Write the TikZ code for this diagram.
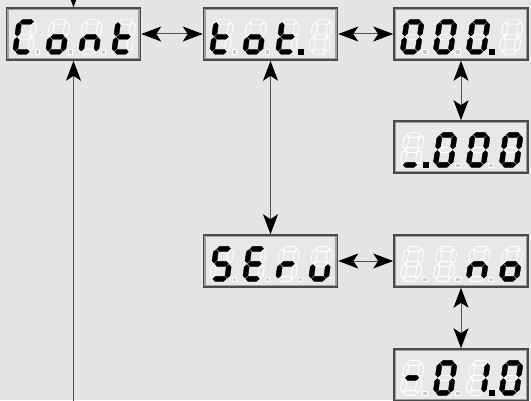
\documentclass[tikz,border=0pt]{standalone}
\usetikzlibrary{calc,arrows.meta}
\definecolor{bgc}{HTML}{E5E5E5}
\definecolor{boxin}{HTML}{E8E8E8}
\definecolor{frameo}{HTML}{4A4A4A}
\definecolor{framei}{HTML}{A0A0A0}
\definecolor{linec}{HTML}{505050}
\tikzset{
  dispbox/.style={draw=frameo, line width=1.6pt, fill=boxin, minimum width=134pt, minimum height=52pt, inner sep=0pt, outer sep=0.8pt},
  innerframe/.style={draw=framei, line width=1.5pt},
  segoff/.style={draw=white, line width=0.9pt, line join=miter},
  segon/.style={fill=black, draw=black, line width=0.4pt},
  dpoff/.style={draw=white, fill=white!60!gray, line width=0.6pt},
  conn/.style={draw=linec, line width=1pt},
  dbl/.style={conn, arrows={Stealth[length=20pt,width=15pt,inset=5pt,color=black]-Stealth[length=20pt,width=15pt,inset=5pt,color=black]}},
  sgl/.style={conn, arrows={-Stealth[length=20pt,width=15pt,inset=5pt,color=black]}},
  sg/.style={}, sgz/.style={},
  sga/.style={insert path={(3.2,32.5)--(5.7,35)--(14.3,35)--(16.8,32.5)--(14.3,30)--(5.7,30)--cycle}},
  sgg/.style={insert path={(3.2,17.5)--(5.7,20)--(14.3,20)--(16.8,17.5)--(14.3,15)--(5.7,15)--cycle}},
  sgd/.style={insert path={(3.2,2.5)--(5.7,5)--(14.3,5)--(16.8,2.5)--(14.3,0)--(5.7,0)--cycle}},
  sgf/.style={insert path={(2.5,18.2)--(5,20.7)--(5,29.3)--(2.5,31.8)--(0,29.3)--(0,20.7)--cycle}},
  sgb/.style={insert path={(17.5,18.2)--(20,20.7)--(20,29.3)--(17.5,31.8)--(15,29.3)--(15,20.7)--cycle}},
  sge/.style={insert path={(2.5,3.2)--(5,5.7)--(5,14.3)--(2.5,16.8)--(0,14.3)--(0,5.7)--cycle}},
  sgc/.style={insert path={(17.5,3.2)--(20,5.7)--(20,14.3)--(17.5,16.8)--(15,14.3)--(15,5.7)--cycle}},
}
% #1 node, #2 index, #3 lit segments, #4 dp: 1 lit, 0 unlit, 2 none
\newcommand\dig[4]{%
  \begin{scope}[shift={($(#1.south west)+(6.5+33*#2,6.5)$)}]
    \begin{scope}[xslant=0.14]
      \foreach \s in {a,b,c,d,e,f,g}{\edef\tmp{\noexpand\path[segoff,sg\s];}\tmp}
      \foreach \s in {#3}{\edef\tmp{\noexpand\path[segon,sg\s];}\tmp}
    \end{scope}
    \ifnum#4=1 \path[segon] (23,0) rectangle ++(5,5);\else
    \ifnum#4=0 \path[dpoff] (23,0) rectangle ++(4.5,4.5);\fi\fi
  \end{scope}}
\newcommand\frameit[1]{\draw[innerframe] ($(#1.south west)+(2.4,2.4)$) rectangle ($(#1.north east)-(2.4,2.4)$);}
\begin{document}
\begin{tikzpicture}[x=1pt,y=1pt]
\useasboundingbox (0,0) rectangle (531,400);
\clip (0,0) rectangle (531,400);
\fill[bgc] (0,0) rectangle (531,400);

\node[dispbox] (cont)  at (73.5,366) {};
\node[dispbox] (tot)   at (270.5,366) {};
\node[dispbox] (zero)  at (461,366) {};
\node[dispbox] (under) at (461,253) {};
\node[dispbox] (serv)  at (270.5,139) {};
\node[dispbox] (no)    at (461,139) {};
\node[dispbox] (minus) at (461,25) {};
\foreach \n in {cont,tot,zero,under,serv,no,minus}{\frameit{\n}}

% Cont
\dig{cont}{0}{a,d,e,f}{0}
\dig{cont}{1}{c,d,e,g}{0}
\dig{cont}{2}{c,e,g}{0}
\dig{cont}{3}{d,e,f,g}{2}
% tot.
\dig{tot}{0}{d,e,f,g}{0}
\dig{tot}{1}{c,d,e,g}{0}
\dig{tot}{2}{d,e,f,g}{1}
\dig{tot}{3}{z}{2}
% 000.
\dig{zero}{0}{a,b,c,d,e,f}{0}
\dig{zero}{1}{a,b,c,d,e,f}{0}
\dig{zero}{2}{a,b,c,d,e,f}{1}
\dig{zero}{3}{z}{2}
% _.000
\dig{under}{0}{d}{1}
\dig{under}{1}{a,b,c,d,e,f}{0}
\dig{under}{2}{a,b,c,d,e,f}{0}
\dig{under}{3}{a,b,c,d,e,f}{2}
% SErv
\dig{serv}{0}{a,c,d,f,g}{0}
\dig{serv}{1}{a,d,e,f,g}{0}
\dig{serv}{2}{e,g}{0}
\dig{serv}{3}{c,d,e}{2}
% no
\dig{no}{0}{z}{0}
\dig{no}{1}{z}{0}
\dig{no}{2}{c,e,g}{0}
\dig{no}{3}{c,d,e,g}{2}
% -0.1.0
\dig{minus}{0}{g}{0}
\dig{minus}{1}{a,b,c,d,e,f}{0}
\dig{minus}{2}{b,c}{1}
\dig{minus}{3}{a,b,c,d,e,f}{2}

\coordinate (bot) at (73.5,-2);
\coordinate (topc) at (73.5,430);
\draw[dbl] (cont) -- (tot);
\draw[dbl] (tot) -- (zero);
\draw[dbl] (zero) -- (under);
\draw[dbl] (tot) -- (serv);
\draw[dbl] (serv) -- (no);
\draw[dbl] (no) -- (minus);
\draw[sgl] (bot) -- (cont);
\draw[sgl] (topc) -- (cont);
\end{tikzpicture}
\end{document}
